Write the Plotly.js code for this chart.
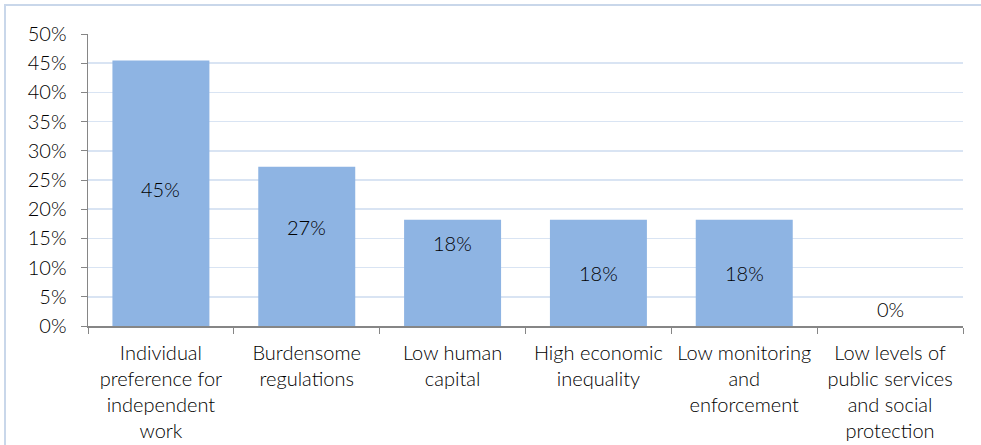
<!DOCTYPE html>
<html lang="en">
<head>
  <meta charset="UTF-8">
  <title>Reasons bar chart</title>
  <script src="https://cdn.plot.ly/plotly-3.0.1.min.js"></script>
  <style>
    body { margin: 0; background: #ffffff; }
    #frame {
      position: absolute;
      left: 4px;
      top: 4px;
      width: 990px;
      height: 460px;
      border-left: 2px solid #c9d7ea;
      border-top: 2px solid #c9d7ea;
    }
    #chart { position: absolute; left: 0; top: 0; width: 981px; height: 445px; }
  </style>
</head>
<body>
  <div id="frame"></div>
  <div id="chart"></div>

  <script>
    const categories = [
      'Individual<br>preference for<br>independent<br>work',
      'Burdensome<br>regulations',
      'Low human<br>capital',
      'High economic<br>inequality',
      'Low monitoring<br>and<br>enforcement',
      'Low levels of<br>public services<br>and social<br>protection'
    ];
    const shares = [0.4545, 0.2727, 0.1818, 0.1818, 0.1818, 0];
    const yTicks = [0, 0.05, 0.10, 0.15, 0.20, 0.25, 0.30, 0.35, 0.40, 0.45, 0.50];
    // labels in the source were nudged by hand, pixels above bar middle
    const labelLift = [4, 19, 30, 0, 0, 17];

    const FONT = 'Lato, "Open Sans", sans-serif';

    const trace = {
      type: 'bar',
      x: categories,
      y: shares,
      marker: { color: '#8eb4e3' },
      hoverinfo: 'skip'
    };

    const annotations = shares.map((v, i) => ({
      x: categories[i],
      y: v / 2,
      xref: 'x',
      yref: 'y',
      text: Math.round(v * 100) + '%',
      showarrow: false,
      yshift: labelLift[i],
      font: { family: FONT, size: 20, weight: 300, color: '#000000' }
    }));

    const layout = {
      width: 981,
      height: 445,
      margin: { l: 88, r: 18, t: 34, b: 119 },
      paper_bgcolor: 'rgba(0,0,0,0)',
      plot_bgcolor: 'rgba(0,0,0,0)',
      bargap: 0.335,
      showlegend: false,
      font: { family: FONT, size: 20, weight: 300, color: '#000000' },
      annotations: annotations,
      xaxis: {
        type: 'category',
        tickson: 'boundaries',
        ticks: 'outside',
        ticklen: 6,
        tickcolor: '#868686',
        showline: true,
        linecolor: '#868686',
        linewidth: 1.5,
        showgrid: false,
        ticklabelstandoff: 8,
        tickfont: { size: 20, weight: 300 },
        fixedrange: true
      },
      yaxis: {
        range: [0, 0.5],
        tickvals: yTicks,
        tickformat: '.0%',
        ticks: 'outside',
        ticklen: 6,
        tickcolor: '#868686',
        showline: true,
        linecolor: '#868686',
        linewidth: 1.5,
        showgrid: true,
        gridcolor: '#d9e4f3',
        gridwidth: 1.5,
        zeroline: false,
        ticklabelstandoff: 10,
        tickfont: { size: 20, weight: 300 },
        fixedrange: true
      }
    };

    Plotly.newPlot('chart', [trace], layout, { displayModeBar: false, staticPlot: true });
  </script>
</body>
</html>
